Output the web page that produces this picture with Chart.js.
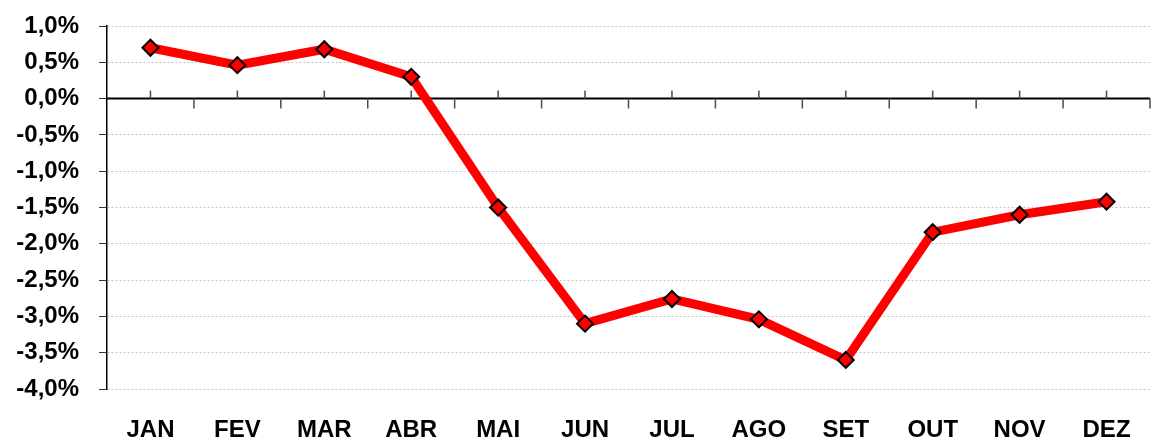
<!DOCTYPE html>
<html>
<head>
<meta charset="utf-8">
<script src="https://cdn.jsdelivr.net/npm/chart.js@4/dist/chart.umd.min.js"></script>
<style>
  html, body { margin: 0; padding: 0; background: #fff; overflow: hidden; }
  #wrap { width: 1156px; height: 442px; overflow: hidden; }
  #box { width: 1160px; height: 442px; }
</style>
</head>
<body>
<div id="wrap"><div id="box"><canvas id="varChart"></canvas></div></div>
<script>
const meses = ['JAN', 'FEV', 'MAR', 'ABR', 'MAI', 'JUN', 'JUL', 'AGO', 'SET', 'OUT', 'NOV', 'DEZ'];
const variacao = [0.70, 0.46, 0.68, 0.30, -1.50, -3.10, -2.76, -3.04, -3.60, -1.84, -1.60, -1.42];
const yMin = -4.0;
const yMax = 1.0;
const yStep = 0.5;

const fonte = { family: "'Liberation Sans', Arial, sans-serif", size: 24, weight: 'bold' };

// zero line with tick marks: up at each month, down between months
const zeroAxis = {
    id: 'zeroAxis',
    beforeDatasetsDraw(chart) {
        const ctx = chart.ctx;
        const xs = chart.scales.x;
        const y0 = chart.scales.y.getPixelForValue(0);
        const area = chart.chartArea;
        const half = (xs.getPixelForValue(1) - xs.getPixelForValue(0)) / 2;
        ctx.save();
        ctx.strokeStyle = '#000';
        ctx.lineWidth = 2;
        ctx.beginPath();
        ctx.moveTo(area.left, y0);
        ctx.lineTo(area.right, y0);
        ctx.stroke();
        ctx.strokeStyle = '#4d4d4d';
        ctx.lineWidth = 1.5;
        ctx.beginPath();
        meses.forEach((m, i) => {
            const cx = xs.getPixelForValue(i);
            ctx.moveTo(cx, y0 - 8);
            ctx.lineTo(cx, y0);
            ctx.moveTo(cx + half, y0);
            ctx.lineTo(cx + half, y0 + 10);
        });
        ctx.stroke();
        ctx.restore();
    }
};

new Chart(document.getElementById('varChart'), {
    type: 'line',
    data: {
        labels: meses,
        datasets: [{
            data: variacao,
            borderColor: '#ff0000',
            borderWidth: 9,
            backgroundColor: '#ff0000',
            pointStyle: 'rectRot',
            pointRadius: 8,
            pointBorderColor: '#000',
            pointBorderWidth: 2,
            pointBackgroundColor: '#ff0000',
            tension: 0,
            fill: false
        }]
    },
    options: {
        responsive: true,
        maintainAspectRatio: false,
        animation: false,
        layout: { padding: { top: 24, right: 0, left: 0, bottom: 0 } },
        plugins: {
            legend: { display: false },
            tooltip: { enabled: false }
        },
        scales: {
            x: {
                offset: true,
                grid: { display: false, drawTicks: false },
                border: { display: false },
                ticks: { color: '#000', font: fonte, padding: 27, maxRotation: 0, autoSkip: false },
                afterFit(scale) { scale.height = 53; }
            },
            y: {
                min: yMin,
                max: yMax,
                grid: {
                    color: ctx => ctx.tick && ctx.tick.value === 0 ? 'rgba(0,0,0,0)' : '#c4c4c4',
                    lineWidth: 1,
                    tickColor: '#333',
                    tickLength: 8,
                    tickBorderDash: [],
                    drawTicks: true
                },
                border: { display: true, color: '#000', width: 1.5, dash: [2, 2] },
                ticks: {
                    stepSize: yStep,
                    color: '#000',
                    font: { ...fonte, lineHeight: 0.5 },
                    padding: 20,
                    callback: v => v.toFixed(1).replace('.', ',') + '%'
                },
                afterFit(scale) { scale.width = 107; }
            }
        }
    },
    plugins: [zeroAxis]
});
</script>
</body>
</html>
